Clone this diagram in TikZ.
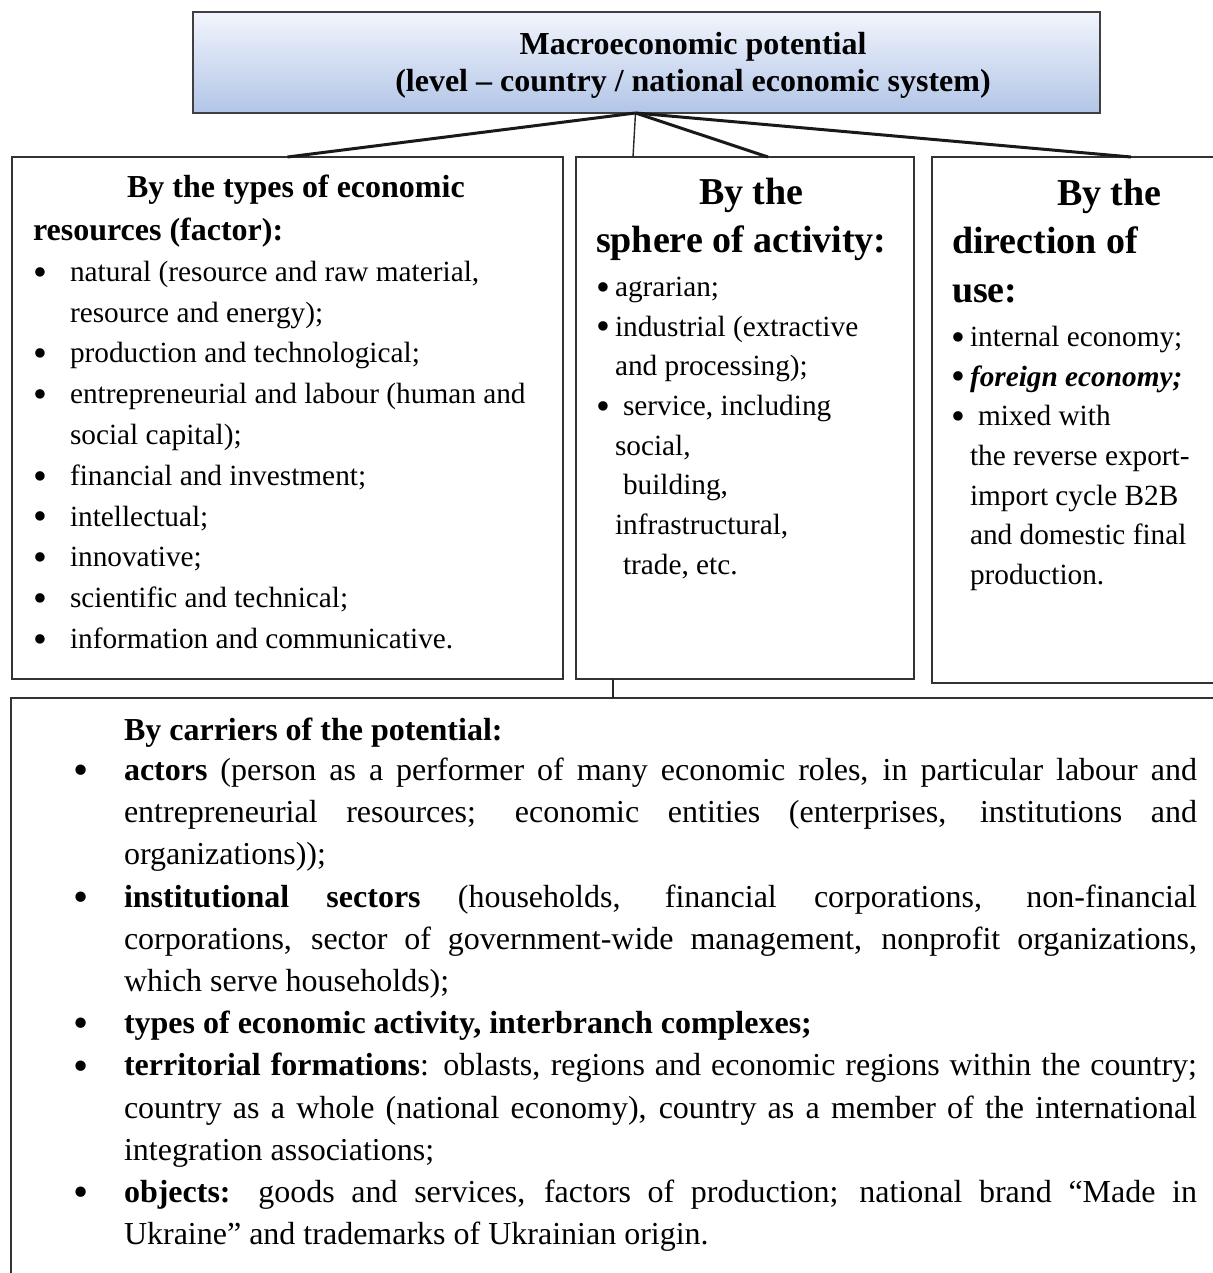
\documentclass[tikz,border=0pt]{standalone}
\usepackage{fontspec}
\setmainfont{Liberation Serif}
\usetikzlibrary{positioning,calc}

\definecolor{toplight}{RGB}{242,245,252}
\definecolor{topdark}{RGB}{178,197,231}

\newcommand{\titlefont}{\fontsize{16}{18.5}\selectfont\bfseries}
\newcommand{\headfont}{\fontsize{16}{21.5}\selectfont\bfseries}
\newcommand{\bighead}{\fontsize{19}{24.2}\selectfont\bfseries}
\newcommand{\colfont}{\fontsize{14.65}{20.4}\selectfont}
\newcommand{\midfont}{\fontsize{14.65}{19.85}\selectfont}
\newcommand{\botfont}{\fontsize{16}{21.1}\selectfont}
\newcommand{\dotmark}{\raisebox{-0.13em}{\scalebox{1.35}{\textbullet}}}
\newcommand{\bul}[1]{\makebox[#1][l]{\dotmark}}

\tikzset{
  box/.style={draw=black!80, line width=0.8pt, inner sep=0pt, outer sep=0pt},
  txt/.style={inner sep=0pt, outer sep=0pt, anchor=north west, align=left},
  link/.style={line width=1.5pt, black!90},
  thinlink/.style={line width=0.7pt, black!85}
}

\begin{document}
\begin{tikzpicture}[x=0.5pt,y=-0.5pt]
\useasboundingbox (0,0) rectangle (1213,1273);

% boxes
\node[box, draw=black!75, top color=toplight, bottom color=topdark, minimum width=453.5pt, minimum height=50.5pt] (top) at (646.5,62.5) {};
\node[box, minimum width=275.5pt, minimum height=261pt] (types) at (287.5,418) {};
\node[box, minimum width=169pt, minimum height=261pt] (sphere) at (745,418) {};
\node[box, minimum width=149pt, minimum height=263pt] (direction) at (1081,420) {};
\node[box, minimum width=609.5pt, minimum height=296pt] (carriers) at (620.5,994) {};

% connectors
\coordinate (hub) at ([xshift=-5.5pt]top.south);
\draw[link] (hub) -- (types.north);
\draw[thinlink] (hub) -- ([xshift=28.5pt]sphere.north west);
\draw[link] (hub) -- ([xshift=11.5pt]sphere.north);
\draw[link] (hub) -- ([xshift=99.5pt]direction.north west);
\coordinate (drop) at ([xshift=18.5pt]sphere.south west);
\draw[thinlink] (drop) -- (drop |- carriers.north);

% title
\node[font=\titlefont, align=center, inner sep=0pt] (title) at (693,65) {Macroeconomic potential\\(level -- country / national economic system)};

% by the types of economic resources
\node[txt, font=\headfont] (typeshead) at (33,175) {\hspace*{47pt}By the types of economic\\resources (factor):};
\node[txt, font=\colfont] (typeslist) at (33,261) {%
\bul{18.5pt}natural (resource and raw material,\\
\hspace*{18.5pt}resource and energy);\\
\bul{18.5pt}production and technological;\\
\bul{18.5pt}entrepreneurial and labour (human and\\
\hspace*{18.5pt}social capital);\\
\bul{18.5pt}financial and investment;\\
\bul{18.5pt}intellectual;\\
\bul{18.5pt}innovative;\\
\bul{18.5pt}scientific and technical;\\
\bul{18.5pt}information and communicative.};

% by the sphere of activity
\node[txt, font=\bighead] (spherehead) at (596,178) {\hspace*{51.5pt}By the\\sphere of activity:};
\node[txt, font=\midfont] (spherelist) at (596,277) {%
\bul{9.5pt}agrarian;\\
\bul{9.5pt}industrial (extractive\\
\hspace*{9.5pt}and processing);\\
\bul{13.5pt}service, including\\
\hspace*{9.5pt}social,\\
\hspace*{13.5pt}building,\\
\hspace*{9.5pt}infrastructural,\\
\hspace*{13.5pt}trade, etc.};

% by the direction of use
\node[txt, font=\bighead] (dirhead) at (952,179) {\hspace*{52.5pt}By the\\direction of\\use:};
\node[txt, font=\midfont] (dirlist) at (951,326) {%
\bul{9.5pt}internal economy;\\
\bul{9.5pt}\textbf{\textit{foreign economy;}}\\
\bul{13.5pt}mixed with\\
\hspace*{9.5pt}the reverse export-\\
\hspace*{9.5pt}import cycle B2B\\
\hspace*{9.5pt}and domestic final\\
\hspace*{9.5pt}production.};

% by carriers of the potential
\node[txt, font=\headfont] (carrhead) at (124,718) {By carriers of the potential:};
\node[txt, font=\botfont, text width=536.5pt, align=justify] (carrlist) at (124,758) {%
\hyphenpenalty=10000\exhyphenpenalty=10000\parindent=0pt
\noindent\llap{\bul{25pt}}\textbf{actors} (person as a performer of many economic roles, in particular labour and\linebreak
entrepreneurial resources; economic entities (enterprises, institutions and\linebreak
organizations));\par
\noindent\llap{\bul{25pt}}\textbf{institutional sectors} (households, financial corporations, non-financial\linebreak
corporations, sector of government-wide management, nonprofit organizations,\linebreak
which serve households);\par
\noindent\llap{\bul{25pt}}\textbf{types of economic activity, interbranch complexes;}\par
\noindent\llap{\bul{25pt}}\textbf{territorial formations}: oblasts, regions and economic regions within the country;\linebreak
country as a whole (national economy), country as a member of the international\linebreak
integration associations;\par
\noindent\llap{\bul{25pt}}\textbf{objects:} goods and services, factors of production; national brand “Made in\linebreak
Ukraine” and trademarks of Ukrainian origin.};
\end{tikzpicture}
\end{document}
